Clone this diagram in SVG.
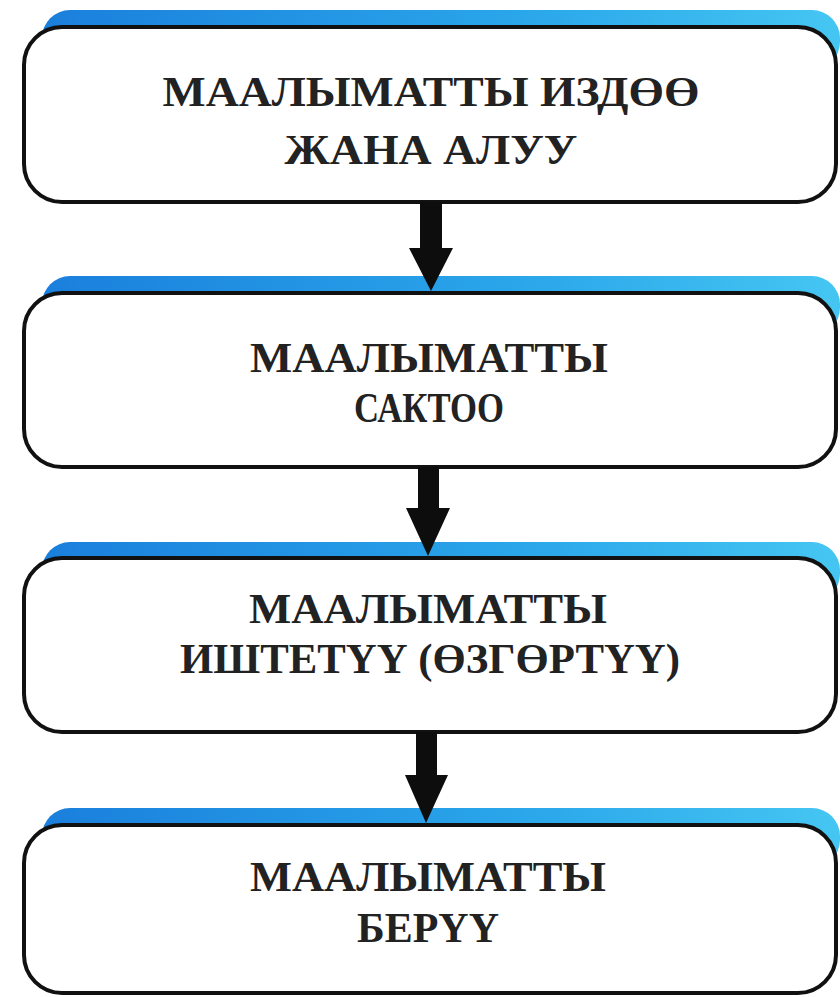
<svg xmlns="http://www.w3.org/2000/svg" width="840" height="997" viewBox="0 0 840 997">
<defs>
<linearGradient id="blue" x1="0" y1="0" x2="1" y2="0">
<stop offset="0" stop-color="#1a7fdc"/>
<stop offset="0.6" stop-color="#2aa6ea"/>
<stop offset="1" stop-color="#45c6f2"/>
</linearGradient>
<style>
.stripe{fill:url(#blue)}
.box{fill:#ffffff;stroke:#111111;stroke-width:4}
.t{font-family:"Liberation Serif","DejaVu Serif",serif;font-weight:bold;font-size:42px;fill:#222222;text-anchor:middle}
.arr{fill:#0d0d0d}
</style>
</defs>
<rect width="840" height="997" fill="#ffffff"/>
<g id="node1">
<rect class="stripe" x="42" y="10" width="798" height="60" rx="28"/>
<rect class="box" x="24" y="27" width="812" height="175" rx="38"/>
<text class="t" x="431" y="106" textLength="537" lengthAdjust="spacingAndGlyphs">МААЛЫМАТТЫ  ИЗДӨӨ</text>
<text class="t" x="431" y="164" textLength="293" lengthAdjust="spacingAndGlyphs">ЖАНА АЛУУ</text>
</g>
<g id="node2">
<rect class="stripe" x="42" y="276" width="798" height="60" rx="28"/>
<rect class="box" x="24" y="293" width="812" height="174" rx="38"/>
<text class="t" x="429" y="372" textLength="358" lengthAdjust="spacingAndGlyphs">МААЛЫМАТТЫ</text>
<text class="t" x="429" y="422" textLength="150" lengthAdjust="spacingAndGlyphs">САКТОО</text>
</g>
<g id="node3">
<rect class="stripe" x="42" y="542" width="798" height="60" rx="28"/>
<rect class="box" x="24" y="558" width="812" height="174" rx="38"/>
<text class="t" x="428" y="623" textLength="358" lengthAdjust="spacingAndGlyphs">МААЛЫМАТТЫ</text>
<text class="t" x="430" y="673" textLength="500" lengthAdjust="spacingAndGlyphs">ИШТЕТҮҮ (ӨЗГӨРТҮҮ)</text>
</g>
<g id="node4">
<rect class="stripe" x="42" y="808" width="798" height="60" rx="28"/>
<rect class="box" x="24" y="825" width="812" height="168" rx="38"/>
<text class="t" x="428" y="891" textLength="356" lengthAdjust="spacingAndGlyphs">МААЛЫМАТТЫ</text>
<text class="t" x="428" y="942" textLength="142" lengthAdjust="spacingAndGlyphs">БЕРҮҮ</text>
</g>
<g id="connectors">
<polygon class="arr" points="420,202 442,202 442,248 453,248 431,291 409,248 420,248"/>
<polygon class="arr" points="418,467 439,467 439,508 450,508 428,556 406,508 418,508"/>
<polygon class="arr" points="416,732 437,732 437,775 448,775 426,823 405,775 416,775"/>
</g>
</svg>
